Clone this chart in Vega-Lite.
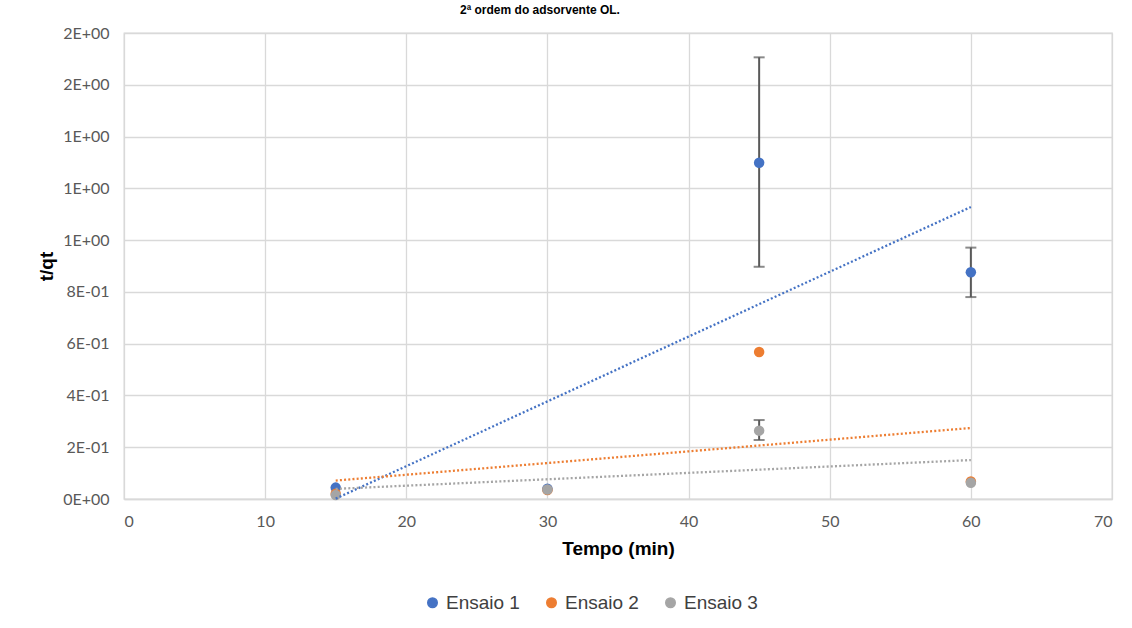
{
  "$schema": "https://vega.github.io/schema/vega-lite/v6.json",
  "width": 988,
  "height": 466,
  "autosize": "none",
  "padding": {"left": 124, "top": 33, "right": 20, "bottom": 129},
  "background": "white",
  "title": {
    "text": "2ª ordem do adsorvente OL.",
    "frame": "group",
    "anchor": "middle",
    "orient": "top",
    "offset": 8,
    "dx": -78,
    "font": "Liberation Sans",
    "fontSize": 12,
    "fontWeight": "bold",
    "color": "#000000"
  },
  "config": {
    "view": {"stroke": "#D9D9D9", "strokeWidth": 1.3},
    "axis": {
      "gridColor": "#D9D9D9",
      "gridWidth": 1.3,
      "ticks": false,
      "labelFont": "Lato",
      "labelFontSize": 16,
      "labelColor": "#595959",
      "titleFont": "Liberation Sans",
      "titleFontSize": 19,
      "titleFontWeight": "bold",
      "titleColor": "#000000"
    }
  },
  "datasets": {
    "points": [
      {"serie": "Ensaio 1", "tempo": 15, "tqt": 0.044},
      {"serie": "Ensaio 1", "tempo": 30, "tqt": 0.040},
      {"serie": "Ensaio 1", "tempo": 45, "tqt": 1.299},
      {"serie": "Ensaio 1", "tempo": 60, "tqt": 0.876},
      {"serie": "Ensaio 2", "tempo": 15, "tqt": 0.020},
      {"serie": "Ensaio 2", "tempo": 30, "tqt": 0.035},
      {"serie": "Ensaio 2", "tempo": 45, "tqt": 0.568},
      {"serie": "Ensaio 2", "tempo": 60, "tqt": 0.068},
      {"serie": "Ensaio 3", "tempo": 15, "tqt": 0.015},
      {"serie": "Ensaio 3", "tempo": 30, "tqt": 0.037},
      {"serie": "Ensaio 3", "tempo": 45, "tqt": 0.264},
      {"serie": "Ensaio 3", "tempo": 60, "tqt": 0.063}
    ],
    "errors": [
      {"serie": "Ensaio 1", "tempo": 45, "lo": 0.897, "hi": 1.706},
      {"serie": "Ensaio 1", "tempo": 60, "lo": 0.780, "hi": 0.971},
      {"serie": "Ensaio 3", "tempo": 45, "lo": 0.228, "hi": 0.305}
    ]
  },
  "layer": [
    {
      "data": {"name": "errors"},
      "mark": {
        "type": "errorbar",
        "ticks": {"size": 11},
        "thickness": 2,
        "color": "#595959"
      },
      "encoding": {
        "x": {"field": "tempo", "type": "quantitative", "title": "Tempo (min)"},
        "y": {"field": "lo", "type": "quantitative", "title": "t/qt"},
        "y2": {"field": "hi"}
      }
    },
    {
      "data": {"name": "points"},
      "mark": {"type": "circle", "size": 110, "opacity": 1},
      "encoding": {
        "x": {
          "field": "tempo",
          "type": "quantitative",
          "scale": {"domain": [0, 70], "nice": false},
          "axis": {
            "values": [0, 10, 20, 30, 40, 50, 60, 70],
            "title": "Tempo (min)",
            "labelPadding": 14,
            "titlePadding": 10,
            "domainColor": "#D9D9D9",
            "domainWidth": 1.5
          }
        },
        "y": {
          "field": "tqt",
          "type": "quantitative",
          "scale": {"domain": [0, 1.8], "nice": false},
          "axis": {
            "values": [0, 0.2, 0.4, 0.6, 0.8, 1.0, 1.2, 1.4, 1.6, 1.8],
            "title": "t/qt",
            "domain": false,
            "labelPadding": 15,
            "titlePadding": 6,
            "labelExpr": "datum.value < 0.01 ? '0E+00' : (datum.value < 0.99 ? format(datum.value * 10, '.0f') + 'E-01' : format(datum.value, '.0f') + 'E+00')"
          }
        },
        "color": {
          "field": "serie",
          "type": "nominal",
          "scale": {
            "domain": ["Ensaio 1", "Ensaio 2", "Ensaio 3"],
            "range": ["#4472C4", "#ED7D31", "#A5A5A5"]
          },
          "legend": {
            "title": null,
            "orient": "none",
            "direction": "horizontal",
            "legendX": 299,
            "legendY": 560,
            "padding": 0,
            "symbolType": "circle",
            "symbolSize": 90,
            "symbolOpacity": 1,
            "labelFont": "Liberation Sans",
            "labelFontSize": 19,
            "labelColor": "#404040",
            "labelOffset": 4,
            "columnPadding": 22
          }
        }
      }
    },
    {
      "data": {"name": "points"},
      "transform": [
        {"regression": "tqt", "on": "tempo", "groupby": ["serie"], "extent": [15, 60]}
      ],
      "mark": {"type": "line", "strokeWidth": 2.3, "strokeDash": [2, 2.2]},
      "encoding": {
        "x": {"field": "tempo", "type": "quantitative", "title": "Tempo (min)"},
        "y": {"field": "tqt", "type": "quantitative", "title": "t/qt"},
        "color": {"field": "serie", "type": "nominal", "legend": null}
      }
    }
  ]
}
